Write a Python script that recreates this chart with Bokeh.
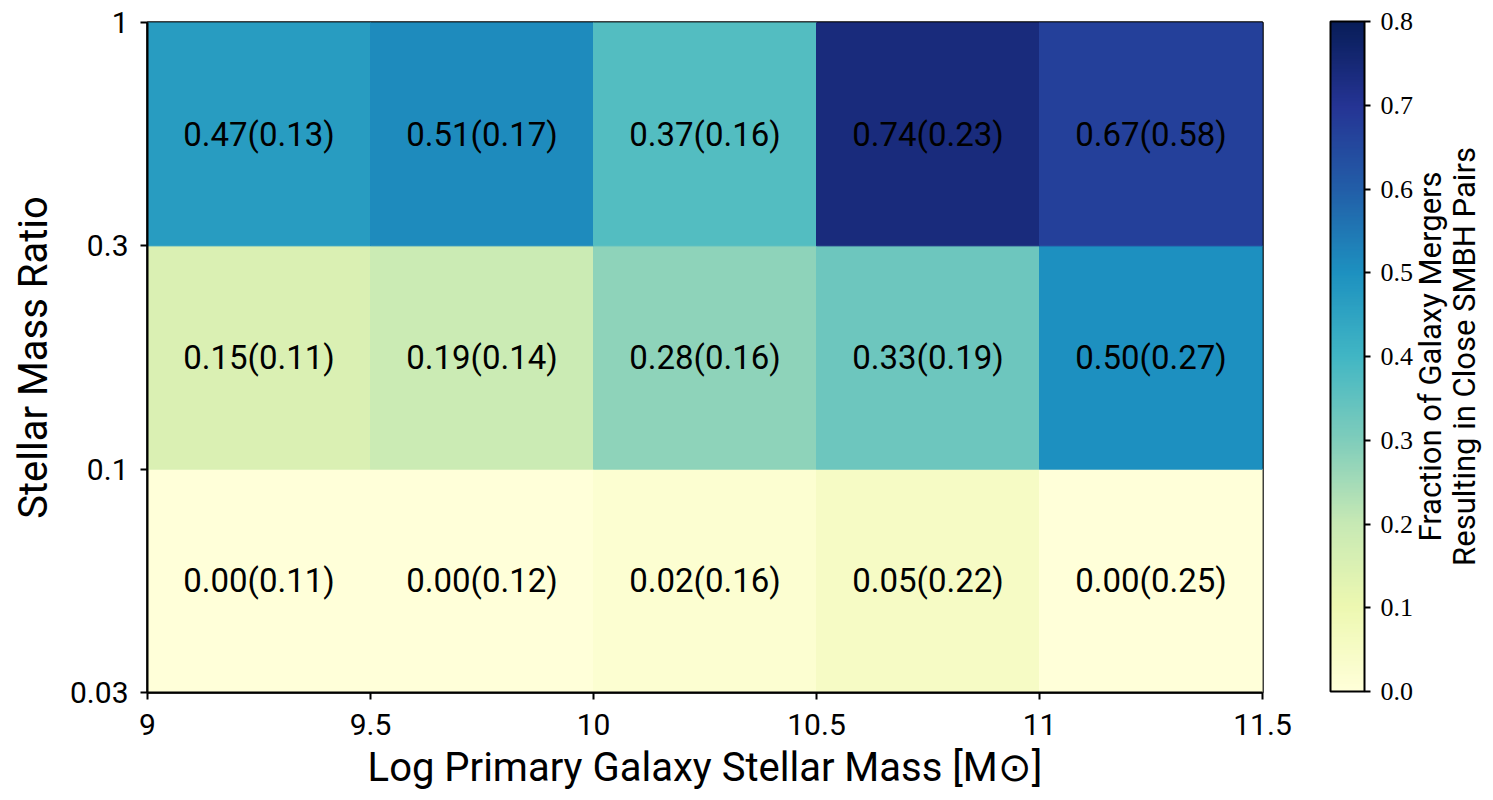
import numpy as np
from bokeh.plotting import figure
from bokeh.layouts import row
from bokeh.models import (ColumnDataSource, LinearColorMapper, ColorBar, FixedTicker,
                          Label, PrintfTickFormatter)
from bokeh.core.properties import value
from bokeh.embed import file_html
from bokeh.resources import INLINE

# ---------------- data ----------------
mass_edges = [9, 9.5, 10, 10.5, 11, 11.5]
mass_tick_labels = ["9", "9.5", "10", "10.5", "11", "11.5"]
ratio_tick_labels = ["0.03", "0.1", "0.3", "1"]

# rows: mass ratio bins 0.03-0.1, 0.1-0.3, 0.3-1
frac_low = [0.00, 0.00, 0.02, 0.05, 0.00]
err_low = [0.11, 0.12, 0.16, 0.22, 0.25]
frac_mid = [0.15, 0.19, 0.28, 0.33, 0.50]
err_mid = [0.11, 0.14, 0.16, 0.19, 0.27]
frac_high = [0.47, 0.51, 0.37, 0.74, 0.67]
err_high = [0.13, 0.17, 0.16, 0.23, 0.58]

cbar_ticks = [0.0, 0.1, 0.2, 0.3, 0.4, 0.5, 0.6, 0.7, 0.8]
cbar_low, cbar_high = 0.0, 0.8
cbar_title_lines = ["Fraction of Galaxy Mergers", "Resulting in Close SMBH Pairs"]

# YlGnBu (light -> dark) base colours
ylgnbu9 = ["#ffffd9", "#edf8b1", "#c7e9b4", "#7fcdbb", "#41b6c4",
           "#1d91c0", "#225ea8", "#253494", "#081d58"]


def interp_palette(cols, n):
    rgb = np.array([[int(c[i:i + 2], 16) for i in (1, 3, 5)] for c in cols], float)
    src = np.linspace(0, 1, len(cols))
    dst = np.linspace(0, 1, n)
    out = np.stack([np.interp(dst, src, rgb[:, k]) for k in range(3)], axis=1)
    return ["#%02x%02x%02x" % tuple(int(round(v)) for v in row_) for row_ in out]


palette = interp_palette(ylgnbu9, 256)
mapper = LinearColorMapper(palette=palette, low=cbar_low, high=cbar_high)

# ---------------- table ----------------
rows = [(frac_low, err_low), (frac_mid, err_mid), (frac_high, err_high)]
left, right, bottom, top, vals, labels, xc, yc = [], [], [], [], [], [], [], []
for r, (fr, er) in enumerate(rows):
    for c in range(len(fr)):
        left.append(mass_edges[c])
        right.append(mass_edges[c + 1])
        bottom.append(r)
        top.append(r + 1)
        vals.append(fr[c])
        labels.append("%.2f(%.2f)" % (fr[c], er[c]))
        xc.append((mass_edges[c] + mass_edges[c + 1]) / 2)
        yc.append(r + 0.5)
src = ColumnDataSource(dict(left=left, right=right, bottom=bottom, top=top,
                            val=vals, label=labels, xc=xc, yc=yc))

FW, FH = 1115, 670
TOTAL_H = 792
BT = 22
BL = 147
BR = 40
p = figure(frame_width=FW, frame_height=FH,
           x_range=(mass_edges[0], mass_edges[-1]), y_range=(0, len(ratio_tick_labels) - 1),
           output_backend="svg", toolbar_location=None,
           min_border_left=BL, min_border_top=BT, min_border_bottom=TOTAL_H - BT - FH,
           min_border_right=BR)
p.background_fill_color = "white"
p.border_fill_color = "white"
p.grid.visible = False

p.quad(left="left", right="right", bottom="bottom", top="top", source=src,
       fill_color={"field": "val", "transform": mapper},
       line_color={"field": "val", "transform": mapper}, line_width=1)
p.text(x="xc", y="yc", text="label", source=src, text_align="center",
       text_baseline="middle", text_font=value("Roboto"), text_font_size="33px",
       text_color="black")

p.outline_line_color = "black"
p.outline_line_width = 2.5

# axes
p.xaxis.ticker = FixedTicker(ticks=mass_edges)
p.xaxis.major_label_overrides = {t: l for t, l in zip(mass_edges, mass_tick_labels)}
p.yaxis.ticker = FixedTicker(ticks=list(range(len(ratio_tick_labels))))
p.yaxis.major_label_overrides = {i: l for i, l in enumerate(ratio_tick_labels)}

for ax in (p.xaxis[0], p.yaxis[0]):
    ax.axis_line_color = "black"
    ax.axis_line_width = 2
    ax.major_tick_line_color = "black"
    ax.major_tick_line_width = 2
    ax.major_tick_in = 0
    ax.major_tick_out = 7
    ax.minor_tick_line_color = None
    ax.major_label_text_font = "Roboto"
    ax.major_label_text_font_size = "30px"
    ax.major_label_text_color = "black"
    ax.axis_label_text_font = "Roboto"
    ax.axis_label_text_font_size = "40px"
    ax.axis_label_text_font_style = "normal"
    ax.axis_label_text_color = "black"

p.xaxis.axis_label = "Log Primary Galaxy Stellar Mass [M\u2299]"
p.xaxis.major_label_standoff = 14
p.xaxis.axis_label_standoff = 6
p.yaxis.axis_label = "Stellar Mass Ratio"
p.yaxis.major_label_standoff = 12
p.yaxis.axis_label_standoff = 10

# ---------------- colour bar panel (separate figure, frame aligned with main) ----
W1 = BL + FW + BR
W2 = 1490 - W1
p2 = figure(width=W2, height=TOTAL_H, x_range=(0, 1), y_range=(0, 1),
            x_axis_location=None, y_axis_location=None, min_border=0,
            toolbar_location=None, output_backend="svg")
p2.outline_line_color = None
p2.background_fill_color = "white"
p2.border_fill_color = "white"
p2.grid.visible = False

cb = ColorBar(color_mapper=mapper, ticker=FixedTicker(ticks=cbar_ticks),
              formatter=PrintfTickFormatter(format="%.1f"),
              width=34, height=FH, location=(1330 - W1, 0), padding=0, margin=0,
              bar_line_color="black", bar_line_width=2,
              major_tick_line_color="black", major_tick_line_width=2,
              major_tick_in=0, major_tick_out=6,
              major_label_text_font="Liberation Serif",
              major_label_text_font_size="26px", major_label_text_color="black",
              label_standoff=10, background_fill_color=None, border_line_color=None)
p2.add_layout(cb, "center")

for xo, txt in zip([1430 - W1, 1464 - W1], cbar_title_lines):
    p2.add_layout(Label(x=xo, y=FH / 2, x_units="screen", y_units="screen",
                        text=txt, angle=90, angle_units="deg",
                        text_align="center", text_baseline="alphabetic",
                        text_font="Roboto", text_font_size="31px", text_color="black"))

layout = row(p, p2)
open("out.html", "w").write(file_html(layout, INLINE))
